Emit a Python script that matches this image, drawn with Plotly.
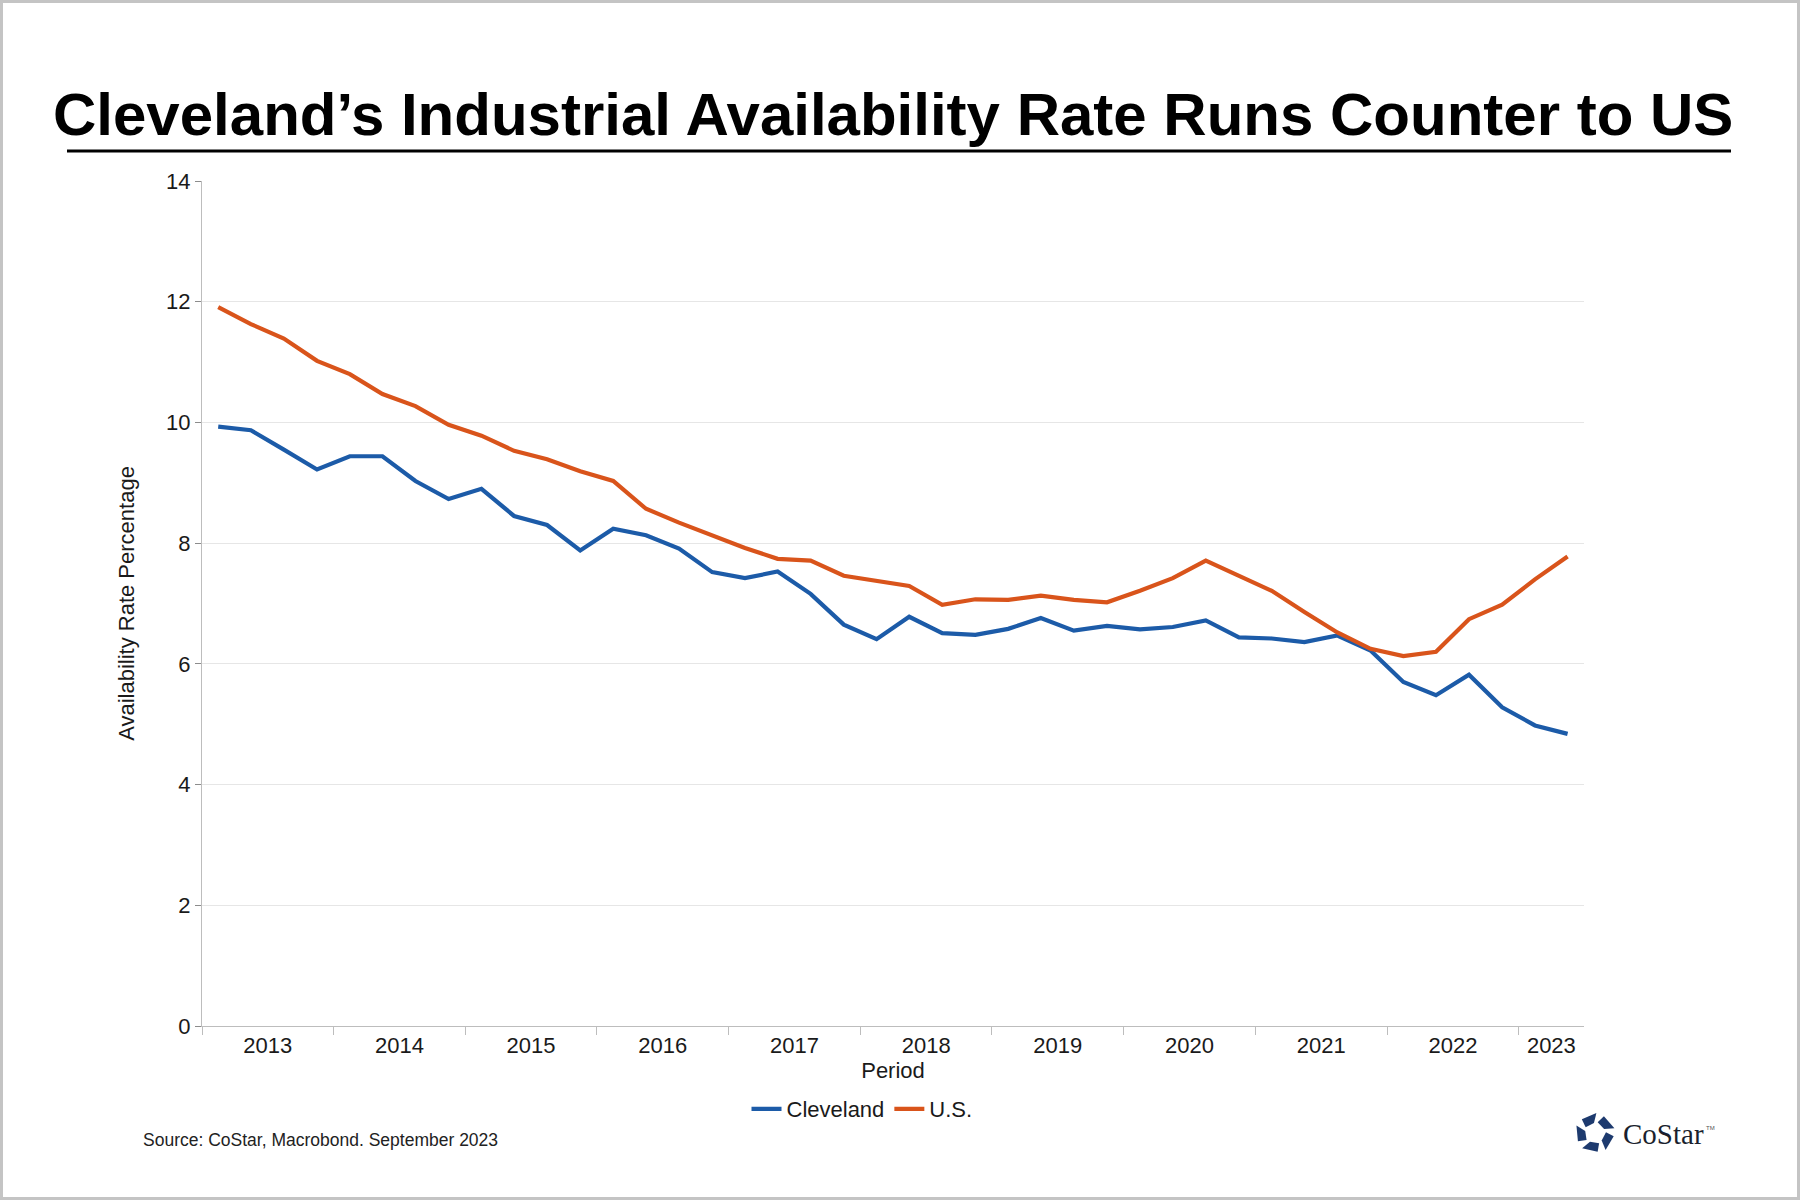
import math
import pandas as pd
import plotly.graph_objects as go

# quarterly availability rate (%), 2013Q1 .. 2023Q2
quarters = pd.period_range("2013Q1", "2023Q2", freq="Q")
cleveland = [9.93, 9.87, 9.55, 9.22, 9.44, 9.44, 9.03, 8.73, 8.90, 8.45,
             8.30, 7.88, 8.24, 8.13, 7.91, 7.52, 7.42, 7.53, 7.16, 6.65,
             6.41, 6.78, 6.51, 6.48, 6.58, 6.76, 6.55, 6.63, 6.57, 6.61,
             6.72, 6.44, 6.42, 6.36, 6.47, 6.22, 5.70, 5.48, 5.82, 5.28,
             4.98, 4.84]
us = [11.91, 11.63, 11.39, 11.02, 10.80, 10.47, 10.27, 9.96, 9.78, 9.53,
      9.39, 9.19, 9.03, 8.57, 8.34, 8.12, 7.92, 7.74, 7.71, 7.46,
      7.38, 7.29, 6.98, 7.07, 7.06, 7.13, 7.06, 7.02, 7.21, 7.42,
      7.71, 7.46, 7.21, 6.86, 6.52, 6.25, 6.13, 6.20, 6.74, 6.98,
      7.40, 7.78]
years = [str(y) for y in range(2013, 2024)]

FONT = "Liberation Sans, Arial, sans-serif"
BLUE = "#1C5BA8"
ORANGE = "#D9541B"

# mid point of every quarter on a date axis
x = [p.start_time + (p.end_time - p.start_time) / 2 for p in quarters]
x_start = quarters[0].start_time
x_end = quarters[-1].end_time + pd.Timedelta(seconds=1)

# year labels centred on the visible part of each year, ticks on year boundaries
year_starts = [pd.Timestamp(y + "-01-01") for y in years]
label_pos = []
for ys in year_starts:
    ye = min(ys + pd.DateOffset(years=1), x_end)
    label_pos.append(ys + (ye - ys) / 2)

fig = go.Figure()
fig.add_trace(go.Scatter(x=x, y=cleveland, name="Cleveland", mode="lines",
                         line=dict(color=BLUE, width=4.2)))
fig.add_trace(go.Scatter(x=x, y=us, name="U.S.", mode="lines",
                         line=dict(color=ORANGE, width=4.2)))

# page geometry (pixels) -> paper coords
W, H = 1800, 1200
L, R, T, B = 202, 216, 181, 174
PW, PH = W - L - R, H - T - B


def px(v):
    return (v - L) / PW


def py(v):
    return (H - B - v) / PH


shapes = [
    # outer frame
    dict(type="rect", xref="paper", yref="paper", x0=px(1.5), x1=px(W - 1.5),
         y0=py(H - 1.5), y1=py(1.5), line=dict(color="#c4c4c4", width=3)),
    # title underline
    dict(type="line", xref="paper", yref="paper", x0=px(67), x1=px(1731),
         y0=py(151), y1=py(151), line=dict(color="black", width=3)),
]

# CoStar mark: five chunky pieces around a white centre
cx, cy = 1595, 1133
for k in range(5):
    a = 90 + 72 * k
    pts = [(20, a - 4), (19, a + 44), (11, a + 58), (10, a + 6)]
    path = ""
    for i, (r, deg) in enumerate(pts):
        ang = math.radians(deg)
        path += ("M" if i == 0 else "L") + f"{px(cx + r * math.cos(ang)):.5f},{py(cy - r * math.sin(ang)):.5f} "
    shapes.append(dict(type="path", xref="paper", yref="paper", path=path + "Z",
                       fillcolor="#1d3a6e", line=dict(width=0)))

annotations = [
    dict(text="<b>Cleveland\u2019s Industrial Availability Rate Runs Counter to US</b>",
         xref="paper", yref="paper", x=px(893), y=py(150), xanchor="center",
         yanchor="bottom", showarrow=False, font=dict(family=FONT, size=60, color="black")),
    dict(text="Source: CoStar, Macrobond. September 2023", xref="paper", yref="paper",
         x=px(141), y=py(1140), xanchor="left", yanchor="middle", showarrow=False,
         font=dict(family=FONT, size=17.5, color="#222222")),
    dict(text="CoStar", xref="paper", yref="paper",
         x=px(1621), y=py(1134), xanchor="left", yanchor="middle", showarrow=False,
         font=dict(family="Liberation Serif, Times New Roman, serif", size=29, color="#1a1f2e")),
    dict(text="TM", xref="paper", yref="paper",
         x=px(1704), y=py(1128), xanchor="left", yanchor="middle", showarrow=False,
         font=dict(family=FONT, size=6, color="#555555")),
]

fig.update_layout(
    width=W, height=H,
    margin=dict(l=L, r=R, t=T, b=B, autoexpand=False),
    paper_bgcolor="white", plot_bgcolor="white",
    font=dict(family=FONT, size=22, color="#1a1a1a"),
    showlegend=True,
    legend=dict(orientation="h", x=px(862), xanchor="center", y=py(1109),
                yanchor="middle", font=dict(size=22), itemwidth=30),
    shapes=shapes,
    annotations=annotations,
)

fig.update_xaxes(
    type="date", range=[x_start, x_end],
    tickmode="array", tickvals=label_pos, ticktext=years,
    ticks="", showgrid=False,
    minor=dict(tickmode="array", tickvals=year_starts, ticks="outside",
               ticklen=8, tickcolor="#bdbdbd", showgrid=False),
    showline=True, linecolor="#bdbdbd", linewidth=1,
    title=dict(text="Period", font=dict(size=22), standoff=4),
    ticklabelstandoff=0,
)
fig.update_yaxes(
    range=[0, 14], dtick=2, tick0=0,
    ticks="outside", ticklen=6, tickcolor="#8c8c8c",
    showgrid=True, gridcolor="#e6e6e6", gridwidth=1,
    showline=True, linecolor="#bdbdbd", linewidth=1,
    zeroline=False,
    title=dict(text="Availability Rate Percentage", font=dict(size=22), standoff=25),
)

# drop the default page margin so the figure sits at the window origin
fig.write_html("out.html", config={"displayModeBar": False},
               post_script="document.body.style.margin='0px';")
